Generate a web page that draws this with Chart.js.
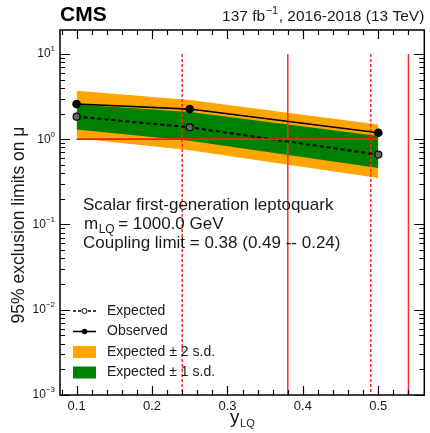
<!DOCTYPE html>
<html lang="en">
<head>
<meta charset="UTF-8">
<title>Leptoquark limits</title>
<script src="https://cdn.jsdelivr.net/npm/chart.js"></script>
<style>
  html, body { margin: 0; padding: 0; background: #fff; }
</style>
</head>
<body>
<canvas id="grafico_limites" width="430" height="433"></canvas>

<script>
// couplings y_LQ where the limit was computed
const couplings = [0.1, 0.25, 0.5];
const expected = [1.84, 1.38, 0.66];
const observed = [2.59, 2.26, 1.19];
const band1Up = [2.56, 2.09, 1.09];
const band1Down = [1.30, 0.96, 0.46];
const band2Up = [3.70, 2.89, 1.49];
const band2Down = [1.03, 0.74, 0.35];

// limit lines (red)
const limitDashed = [0.24, 0.49];
const limitSolid = [0.38, 0.54];
const muOne = 1;

const xTickLabels = [0.1, 0.2, 0.3, 0.4, 0.5];
const yDecades = [-3, -2, -1, 0, 1];

const legendLabels = ['Expected', 'Observed', 'Expected \u00b1 2 s.d.', 'Expected \u00b1 1 s.d.'];

const FONT = '"Liberation Sans", Arial, Helvetica, sans-serif';
const TXT = '#1a1a1a';

function pts(ys) {
  return couplings.map((x, i) => ({ x: x, y: ys[i] }));
}

function vline(x, dashed) {
  return {
    data: [{ x: x, y: 10 }, { x: x, y: 0.001 }],
    borderColor: '#ff2a2a',
    borderWidth: 1.5,
    borderDash: dashed ? [3, 2] : [],
    pointRadius: 0,
    fill: false,
    order: 1
  };
}

const datasets = [
  {
    label: 'Observed',
    data: pts(observed),
    borderColor: '#000',
    borderWidth: 1.7,
    pointRadius: 3.5,
    pointBackgroundColor: '#000',
    pointBorderColor: '#000',
    fill: false,
    order: 0
  },
  {
    label: 'Expected',
    data: pts(expected),
    borderColor: '#000',
    borderWidth: 2,
    borderDash: [4, 3],
    pointRadius: 3.5,
    pointBackgroundColor: '#666',
    pointBorderColor: '#000',
    pointBorderWidth: 1.2,
    fill: false,
    order: 0
  },
  {
    // mu = 1 reference line
    data: couplings.map(x => ({ x: x, y: muOne })),
    borderColor: '#ff1a1a',
    borderWidth: 1.8,
    pointRadius: 0,
    fill: false,
    order: -1
  }
];
limitDashed.forEach(x => datasets.push(vline(x, true)));
limitSolid.forEach(x => datasets.push(vline(x, false)));
datasets.push(
  { data: pts(band1Up), fill: '+1', backgroundColor: '#008000', borderWidth: 0, pointRadius: 0, order: 2 },
  { data: pts(band1Down), fill: false, borderWidth: 0, pointRadius: 0, order: 2 },
  { data: pts(band2Up), fill: '+1', backgroundColor: '#ffa500', borderWidth: 0, pointRadius: 0, order: 3 },
  { data: pts(band2Down), fill: false, borderWidth: 0, pointRadius: 0, order: 3 }
);

function supText(ctx, base, sup, x, y, size, align) {
  // draws base + superscript, right or left aligned at x, middle baseline at y
  ctx.font = size + 'px ' + FONT;
  const wb = ctx.measureText(base).width;
  ctx.font = Math.round(size * 0.7) + 'px ' + FONT;
  const ws = ctx.measureText(sup).width;
  let x0 = align === 'right' ? x - wb - ws : x;
  ctx.textAlign = 'left';
  ctx.textBaseline = 'middle';
  ctx.font = size + 'px ' + FONT;
  ctx.fillText(base, x0, y);
  ctx.font = Math.round(size * 0.7) + 'px ' + FONT;
  ctx.fillText(sup, x0 + wb, y - size * 0.4);
}

const decor = {
  id: 'decor',
  afterDraw(chart) {
    const ctx = chart.ctx;
    const a = chart.chartArea;
    const xs = chart.scales.x;
    const ys = chart.scales.y;
    ctx.save();
    ctx.strokeStyle = '#000';
    ctx.fillStyle = TXT;

    // x ticks every 0.02, major every 0.1
    ctx.lineWidth = 1.2;
    for (let k = 4; k <= 28; k++) {
      const px = Math.round(xs.getPixelForValue(k * 0.02)) + 0.5;
      if (px < a.left || px > a.right) continue;
      const len = k % 5 === 0 ? 9 : 5;
      ctx.beginPath();
      ctx.moveTo(px, a.bottom); ctx.lineTo(px, a.bottom - len);
      ctx.moveTo(px, a.top); ctx.lineTo(px, a.top + len);
      ctx.stroke();
    }
    // y ticks, log
    yDecades.forEach(d => {
      for (let m = 1; m <= 9; m++) {
        const v = m * Math.pow(10, d);
        if (v > ys.max) break;
        const py = Math.round(ys.getPixelForValue(v)) + 0.5;
        const len = m === 1 ? 10 : 5;
        ctx.beginPath();
        ctx.moveTo(a.left, py); ctx.lineTo(a.left + len, py);
        ctx.moveTo(a.right, py); ctx.lineTo(a.right - len, py);
        ctx.stroke();
      }
    });

    // frame
    ctx.lineWidth = 1.5;
    ctx.strokeRect(a.left, a.top, a.right - a.left, a.bottom - a.top);

    // x tick labels
    ctx.font = '13px ' + FONT;
    ctx.textAlign = 'center';
    ctx.textBaseline = 'alphabetic';
    xTickLabels.forEach(v => {
      ctx.fillText(v.toFixed(1), xs.getPixelForValue(v), a.bottom + 15);
    });
    // y tick labels
    yDecades.forEach(d => {
      const py = ys.getPixelForValue(Math.pow(10, d));
      supText(ctx, '10', d < 0 ? '\u2212' + (-d) : String(d), a.left - 5, py, 12, 'right');
    });

    // axis titles
    ctx.save();
    ctx.translate(19, 225);
    ctx.rotate(-Math.PI / 2);
    ctx.font = '17.5px ' + FONT;
    ctx.textAlign = 'center';
    ctx.textBaseline = 'middle';
    ctx.fillText('95% exclusion limits on \u03bc', 0, 0);
    ctx.restore();

    ctx.font = '19px ' + FONT;
    ctx.textAlign = 'left';
    ctx.textBaseline = 'alphabetic';
    const wy = ctx.measureText('y').width;
    ctx.font = '11px ' + FONT;
    const wlq = ctx.measureText('LQ').width;
    const xt = (a.left + a.right) / 2 - (wy + wlq) / 2;
    ctx.font = '19px ' + FONT;
    ctx.fillText('y', xt, 423);
    ctx.font = '11px ' + FONT;
    ctx.fillText('LQ', xt + wy + 0.5, 427);

    // header
    ctx.fillStyle = '#000';
    ctx.font = 'bold 21px ' + FONT;
    ctx.fillText('CMS', a.left, 21);
    ctx.fillStyle = TXT;
    ctx.font = '15.5px ' + FONT;
    const h1 = '137 fb', h2 = ', 2016-2018 (13 TeV)';
    const w1 = ctx.measureText(h1).width, w2 = ctx.measureText(h2).width;
    ctx.font = '11px ' + FONT;
    const wsup = ctx.measureText('\u22121').width;
    let hx = a.right - w1 - wsup - w2 - 1;
    ctx.font = '15.5px ' + FONT;
    ctx.fillText(h1, hx, 21);
    ctx.fillText(h2, hx + w1 + wsup + 1, 21);
    ctx.font = '11px ' + FONT;
    ctx.fillText('\u22121', hx + w1 + 0.5, 14);

    // annotation
    ctx.font = '17px ' + FONT;
    ctx.fillText('Scalar first-generation leptoquark', 83, 210);
    ctx.fillText('m', 84, 229);
    const wm = ctx.measureText('m').width;
    ctx.font = '12px ' + FONT;
    ctx.fillText('LQ', 84 + wm + 0.5, 233);
    const wl = ctx.measureText('LQ').width;
    ctx.font = '17px ' + FONT;
    ctx.fillText('= 1000.0 GeV', 84 + wm + wl + 4, 229);
    ctx.fillText('Coupling limit = 0.38 (0.49 -- 0.24)', 83, 248);

    // legend
    const rows = [311, 331.5, 352, 372.5];
    ctx.font = '14px ' + FONT;
    ctx.textBaseline = 'middle';
    rows.forEach((ry, i) => {
      ctx.fillStyle = TXT;
      ctx.fillText(legendLabels[i], 107, ry);
    });
    // expected symbol
    ctx.strokeStyle = '#000';
    ctx.lineWidth = 1.6;
    ctx.setLineDash([3, 2]);
    ctx.beginPath(); ctx.moveTo(73, rows[0]); ctx.lineTo(96, rows[0]); ctx.stroke();
    ctx.setLineDash([]);
    ctx.fillStyle = '#fff';
    ctx.lineWidth = 1;
    ctx.beginPath(); ctx.arc(84.5, rows[0], 2.5, 0, Math.PI * 2); ctx.fill(); ctx.stroke();
    // observed symbol
    ctx.lineWidth = 1.6;
    ctx.beginPath(); ctx.moveTo(73, rows[1]); ctx.lineTo(96, rows[1]); ctx.stroke();
    ctx.fillStyle = '#000';
    ctx.beginPath(); ctx.arc(84.5, rows[1], 2.8, 0, Math.PI * 2); ctx.fill();
    // band boxes
    ctx.fillStyle = '#ffa500';
    ctx.fillRect(73, rows[2] - 6, 23, 12);
    ctx.fillStyle = '#008000';
    ctx.fillRect(73, rows[3] - 6, 23, 12);

    ctx.restore();
  }
};

new Chart(document.getElementById('grafico_limites'), {
  type: 'line',
  data: { datasets: datasets },
  options: {
    responsive: false,
    animation: false,
    layout: { padding: { left: 60, right: 2, top: 30, bottom: 38 } },
    plugins: {
      legend: { display: false },
      tooltip: { enabled: false },
      filler: { drawTime: 'beforeDatasetsDraw' }
    },
    scales: {
      x: { type: 'linear', min: 0.078, max: 0.561, display: false },
      y: { type: 'logarithmic', min: 0.001, max: 19.1, display: false }
    }
  },
  plugins: [decor]
});
</script>
</body>
</html>
